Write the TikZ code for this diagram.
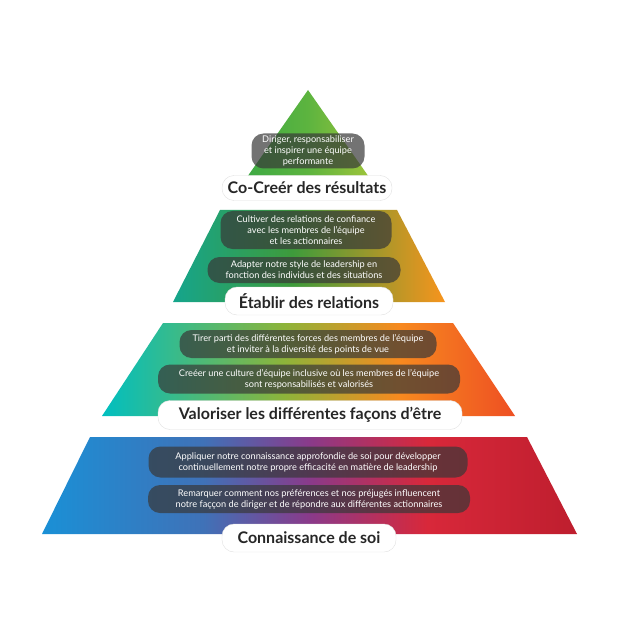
\documentclass[tikz,border=0pt]{standalone}
\usepackage{fontspec}
\setmainfont{Lato}
\definecolor{a0}{HTML}{3AA845}\definecolor{a1}{HTML}{5DB43F}\definecolor{a2}{HTML}{A6C63A}
\definecolor{b0}{HTML}{15A58C}\definecolor{b1}{HTML}{3E9B3B}\definecolor{b2}{HTML}{F7941D}
\definecolor{c0}{HTML}{00BFC0}\definecolor{c1}{HTML}{8DB43A}\definecolor{c2}{HTML}{F7891F}\definecolor{c3}{HTML}{EE4F23}
\definecolor{d0}{HTML}{1A90D6}\definecolor{d1}{HTML}{3F72B8}\definecolor{d2}{HTML}{8A3A8A}\definecolor{d3}{HTML}{D8283A}\definecolor{d4}{HTML}{BE1E2E}
\pgfdeclarehorizontalshading{tA}{100bp}{color(0bp)=(a0); color(25bp)=(a0); color(50bp)=(a1); color(75bp)=(a2); color(100bp)=(a2)}
\pgfdeclarehorizontalshading{tB}{100bp}{color(0bp)=(b0); color(25bp)=(b0); color(47bp)=(b1); color(75bp)=(b2); color(100bp)=(b2)}
\pgfdeclarehorizontalshading{tC}{100bp}{color(0bp)=(c0); color(25bp)=(c0); color(47bp)=(c1); color(61bp)=(c2); color(75bp)=(c3); color(100bp)=(c3)}
\pgfdeclarehorizontalshading{tD}{100bp}{color(0bp)=(d0); color(25bp)=(d0); color(40bp)=(d1); color(50bp)=(d2); color(61bp)=(d3); color(75bp)=(d4); color(100bp)=(d4)}
\begin{document}
\begin{tikzpicture}[x=1pt,y=-1pt,
 pill/.style={fill=black!78,fill opacity=0.7,text opacity=1,text=white,rounded corners=12pt,font=\fontsize{9.2}{11}\selectfont,align=center,inner sep=0pt},
 lab/.style={fill=white,draw=black!12,rounded corners=12pt,font=\fontsize{16}{18}\bfseries\selectfont,text=black!85,inner sep=0pt}]
\useasboundingbox (0,0) rectangle (617,617);
\shade[shading=tA] (308,90) -- (238,190) -- (378,190) -- cycle;
\shade[shading=tB] (220,210) -- (397,210) -- (445,302) -- (173,302) -- cycle;
\shade[shading=tC] (163,323) -- (453,323) -- (515,416) -- (102,416) -- cycle;
\shade[shading=tD] (90,437) -- (527,437) -- (577,534) -- (42,534) -- cycle;
\node[pill,minimum width=113pt,minimum height=35pt] (p1) at (308,151) {Diriger, responsabiliser\\et inspirer une équipe\\performante};
\node[lab,minimum width=170pt,minimum height=25pt] (l1) at (307,188) {Co-Creér des résultats};
\node[pill,minimum width=171pt,minimum height=38pt] (p2) at (306,230) {Cultiver des relations de confiance\\avec les membres de l'équipe\\et les actionnaires};
\node[pill,minimum width=193pt,minimum height=26pt] (p3) at (304,270) {Adapter notre style de leadership en\\fonction des individus et des situations};
\node[lab,minimum width=168pt,minimum height=28pt] (l2) at (309,301) {Établir des relations};
\node[pill,minimum width=257pt,minimum height=28pt] (p4) at (308,344) {Tirer parti des différentes forces des membres de l'équipe\\et inviter à la diversité des points de vue};
\node[pill,minimum width=302pt,minimum height=29pt] (p5) at (309,379) {Creéer une culture d'équipe inclusive où les membres de l'équipe\\sont responsabilisés et valorisés};
\node[lab,minimum width=304pt,minimum height=29pt] (l3) at (310,415) {Valoriser les différentes façons d'être};
\node[pill,minimum width=319pt,minimum height=31pt] (p6) at (308,462) {Appliquer notre connaissance approfondie de soi pour développer\\continuellement notre propre efficacité en matière de leadership};
\node[pill,minimum width=322pt,minimum height=28pt] (p7) at (309,499) {Remarquer comment nos préférences et nos préjugés influencent\\notre faççon de diriger et de répondre aux différentes actionnaires};
\node[lab,minimum width=174pt,minimum height=28pt] (l4) at (309,538) {Connaissance de soi};
\end{tikzpicture}
\end{document}
